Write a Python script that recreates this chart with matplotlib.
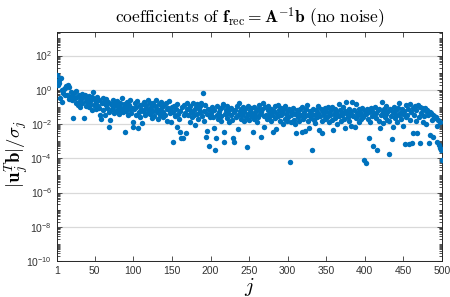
import numpy as np
import matplotlib
matplotlib.use("Agg")
import matplotlib.pyplot as plt
from matplotlib.ticker import FixedLocator, LogLocator, NullFormatter, LogFormatterMathtext

plt.rcParams['mathtext.fontset'] = 'cm'
plt.rcParams['font.family'] = ['Liberation Sans', 'DejaVu Sans']

# j = 1..500, values as log10(|u_j^T b| / sigma_j)
j_index = np.arange(1, 501)
log_coef = [
    0.88, 0.27, 0.55, 0.4, -0.5, 0.67, -0.02, -0.7, -0.2, 0.05,
    0.1, -0.3, 0.2, -0.3, 0.27, -0.55, 0.14, -0.4, -0.15, -0.6,
    -0.35, -1.64, -0.2, -0.5, -0.75, -0.1, -0.45, -0.9, -0.7, -0.3,
    -1.0, -0.55, -0.25, -0.8, -0.4, -1.67, -0.3, -0.65, -0.95, -0.5,
    -0.75, -1.0, -0.35, -0.85, -0.6, -1.2, -0.45, -0.12, -0.9, -0.55,
    -0.7, -1.1, -0.4, -0.95, -1.09, -0.6, -1.48, -1.73, -0.8, -0.5,
    -1.2, -0.75, -1.48, -0.9, -0.55, -1.05, -0.7, -1.3, -2.16, -1.77,
    -0.85, -1.15, -0.6, -1.0, -1.35, -0.7, -0.9, -1.25, -0.65, -1.1,
    -0.95, -1.4, -0.75, -1.2, -0.5, -1.05, -1.3, -0.85, -2.45, -1.0,
    -1.25, -0.7, -1.5, -0.9, -1.15, -0.6, -1.35, -1.05, -1.9, -2.16,
    -1.1, -0.8, -1.45, -1.0, -0.65, -2.25, -1.3, -0.9, -1.6, -1.15,
    -1.95, -0.85, -1.25, -0.7, -1.5, -1.05, -0.9, -1.35, -0.6, -1.2,
    -0.75, -1.4, -1.0, -1.65, -0.8, -1.25, -1.55, -0.95, -0.6, -1.3,
    -1.1, -1.7, -0.85, -1.2, -1.45, -0.7, -1.0, -1.6, -1.3, -0.9,
    -1.5, -0.8, -1.15, -1.8, -1.05, -0.64, -1.35, -1.2, -1.9, -1.0,
    -3.04, -1.3, -0.95, -1.55, -1.1, -2.2, -0.85, -1.4, -1.7, -2.45,
    -1.25, -2.8, -1.0, -2.8, -1.5, -0.9, -1.35, -2.5, -1.15, -0.8,
    -1.45, -1.1, -1.9, -0.95, -1.3, -1.6, -0.75, -1.2, -1.5, -2.06,
    -1.0, -1.4, -0.85, -1.7, -1.15, -1.3, -0.95, -0.76, -1.55, -0.18,
    -1.25, -1.8, -0.9, -2.74, -1.4, -2.4, -1.1, -3.29, -1.6, -1.2,
    -1.35, -1.0, -1.6, -2.25, -1.2, -3.52, -2.84, -1.45, -0.95, -1.7,
    -1.3, -1.1, -1.55, -1.85, -1.0, -0.85, -2.45, -3.04, -1.4, -1.2,
    -1.65, -0.95, -1.35, -1.9, -1.15, -1.5, -1.05, -1.75, -2.84, -1.3,
    -3.04, -1.2, -1.6, -0.95, -1.45, -2.3, -0.78, -1.25, -1.7, -1.1,
    -1.5, -1.0, -1.85, -1.3, -1.15, -1.6, -3.37, -1.4, -0.95, -1.75,
    -1.2, -1.55, -1.05, -1.35, -2.45, -1.7, -1.0, -1.45, -1.25, -1.9,
    -1.1, -1.6, -0.9, -1.4, -1.3, -2.74, -1.15, -0.8, -1.55, -2.2,
    -1.0, -1.45, -1.7, -1.2, -0.95, -1.6, -1.35, -1.85, -1.1, -1.5,
    -2.45, -1.25, -0.95, -1.65, -2.3, -1.4, -0.9, -1.55, -1.2, -1.8,
    -1.05, -1.5, -1.3, -2.0, -1.15, -1.7, -0.95, -1.4, -1.85, -1.25,
    -1.6, -1.1, -4.24, -1.5, -1.9, -1.3, -1.05, -1.75, -1.4, -2.0,
    -2.55, -1.2, -1.6, -1.35, -1.85, -1.1, -1.5, -2.45, -0.99, -1.7,
    -1.3, -2.4, -1.55, -1.15, -0.89, -1.8, -1.45, -2.25, -1.25, -1.65,
    -1.4, -3.52, -1.1, -1.75, -1.5, -1.95, -1.2, -1.6, -0.95, -1.35,
    -2.35, -1.55, -1.15, -1.8, -2.55, -1.3, -1.45, -1.05, -1.7, -1.25,
    -1.6, -1.0, -1.9, -1.35, -1.5, -1.2, -1.75, -0.99, -2.35, -1.4,
    -1.1, -1.65, -1.3, -2.0, -1.45, -0.85, -1.55, -1.2, -1.8, -1.35,
    -1.5, -1.0, -1.7, -1.25, -2.25, -0.7, -1.4, -1.6, -1.15, -1.85,
    -1.3, -2.1, -1.45, -0.7, -1.55, -1.2, -2.2, -0.85, -1.65, -1.35,
    -1.5, -1.1, -1.9, -1.3, -1.7, -1.05, -1.45, -1.6, -4.1, -1.25,
    -4.26, -1.4, -1.15, -1.7, -2.84, -1.3, -1.9, -1.05, -1.55, -1.25,
    -3.29, -1.45, -1.0, -1.65, -1.35, -3.52, -1.2, -1.8, -1.1, -2.25,
    -1.5, -0.7, -1.3, -1.95, -1.15, -1.6, -0.95, -1.4, -1.75, -1.25,
    -1.85, -3.76, -1.1, -1.55, -2.9, -1.3, -2.2, -1.0, -1.65, -1.45,
    -1.2, -1.9, -1.05, -1.5, -0.8, -1.35, -1.7, -1.1, -2.1, -1.4,
    -1.25, -3.17, -1.6, -0.9, -1.45, -1.15, -3.17, -0.85, -1.75, -1.3,
    -3.13, -1.05, -2.55, -1.5, -0.95, -1.8, -1.2, -2.51, -0.89, -1.6,
    -1.0, -3.09, -1.35, -1.05, -1.9, -1.1, -1.55, -1.09, -1.25, -2.0,
    -1.2, -1.5, -3.13, -1.3, -2.65, -1.38, -1.75, -1.45, -2.74, -1.55,
    -1.67, -1.6, -2.1, -3.04, -1.75, -3.23, -3.42, -1.87, -3.52, -4.1,
]
coef = 10.0 ** np.array(log_coef)

x_ticks = [1, 50, 100, 150, 200, 250, 300, 350, 400, 450, 500]
y_ticks = [1e-10, 1e-8, 1e-6, 1e-4, 1e-2, 1e0, 1e2]

fig = plt.figure(figsize=(4.5, 2.97), dpi=100)
ax = fig.add_axes([0.1267, 0.1212, 0.8553, 0.7708])

ax.semilogy(j_index, coef, 'o', color='#0072BD', markersize=3.9,
            markeredgewidth=0, zorder=3)

ax.set_xlim(1, 500)
ax.set_ylim(1e-10, 10 ** 3.37)
ax.xaxis.set_major_locator(FixedLocator(x_ticks))
ax.yaxis.set_major_locator(FixedLocator(y_ticks))
ax.yaxis.set_major_formatter(LogFormatterMathtext())
ax.yaxis.set_minor_locator(LogLocator(base=10, subs=np.arange(1, 10), numticks=50))
ax.yaxis.set_minor_formatter(NullFormatter())

ax.grid(True, axis='y', which='major', color='#d9d9d9', linewidth=0.9, zorder=0)
ax.set_axisbelow(True)

ax.tick_params(which='both', direction='in', top=True, right=True,
               labelsize=7.5, colors='#333333', width=0.6)
ax.tick_params(which='major', length=3.5)
ax.tick_params(which='minor', length=2)
for sp in ax.spines.values():
    sp.set_linewidth(0.7)
    sp.set_color('#262626')

ax.set_title(r"$\mathrm{coefficients\ of\ }\mathbf{f}_{\mathrm{rec}}=\mathbf{A}^{-1}\mathbf{b}\ \mathrm{(no\ noise)}$",
             fontsize=12.5, pad=7)
ax.set_xlabel(r"$j$", fontsize=15, labelpad=0)
ax.set_ylabel(r"$|\mathbf{u}_j^T\mathbf{b}|/\sigma_j$", fontsize=13.5)
ax.yaxis.set_label_coords(-0.067, 0.47)

fig.savefig("out.png", dpi=100)
